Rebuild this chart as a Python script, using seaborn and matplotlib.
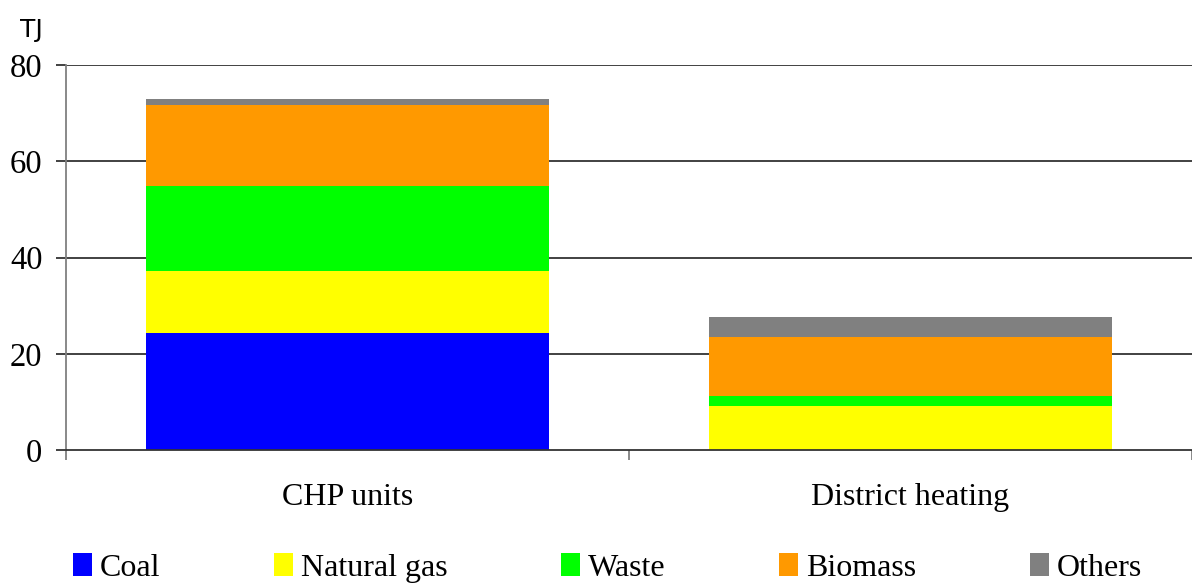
import matplotlib
matplotlib.use("Agg")
import matplotlib.pyplot as plt
import seaborn as sns
import pandas as pd
import numpy as np
from matplotlib.patches import Patch

categories = ["CHP units", "District heating"]
fuels = ["Coal", "Natural gas", "Waste", "Biomass", "Others"]
coal = [24.4, 0.0]
natural_gas = [12.8, 9.1]
waste = [17.6, 2.1]
biomass = [16.9, 12.3]
others = [1.3, 4.1]
colors = ["#0000FF", "#FFFF00", "#00FF00", "#FF9900", "#808080"]

sns.set_theme(style="white")
plt.rcParams["font.family"] = ["Liberation Serif", "DejaVu Serif"]
plt.rcParams["text.color"] = "black"
plt.rcParams["xtick.color"] = "black"
plt.rcParams["ytick.color"] = "black"

fig = plt.figure(figsize=(11.92, 5.85), dpi=100)
ax = fig.add_axes([66 / 1192, 1 - 450 / 585, 1 - 66 / 1192, (450 - 65) / 585])

series = [coal, natural_gas, waste, biomass, others]
cum = np.cumsum(np.array(series), axis=0)

for yv in [20, 40, 60, 80]:
    ax.axhline(yv, color="#333333", lw=1.3, zorder=0)

# stacked bars: draw cumulative totals from top layer down
for i in range(len(fuels) - 1, -1, -1):
    df = pd.DataFrame({"cat": categories, "val": cum[i]})
    sns.barplot(data=df, x="cat", y="val", color=colors[i], width=0.716,
                saturation=1, linewidth=0, ax=ax, zorder=2)

ax.set_xlim(-0.5, 1.5)
ax.set_ylim(0, 80)
ax.set_xlabel("")
ax.set_ylabel("")

for s in ["top", "right"]:
    ax.spines[s].set_visible(False)
ax.spines["left"].set_color("#808080")
ax.spines["left"].set_linewidth(1.3)
ax.spines["bottom"].set_color("#333333")
ax.spines["bottom"].set_linewidth(1.3)

ax.set_yticks([0, 20, 40, 60, 80])
ax.set_yticklabels(["0", "20", "40", "60", "80"], fontsize=23.5, color="black")
ax.tick_params(axis="y", direction="out", length=7, width=1.3, color="#333333",
               pad=10, left=True, labelcolor="black")

ax.set_xticks([-0.5, 0.5, 1.5])
ax.set_xticklabels(["", "", ""])
ax.tick_params(axis="x", which="major", direction="out", length=7, width=1.3,
               color="#808080", bottom=True)
ax.set_xticks([0, 1], minor=True)
ax.set_xticklabels(categories, minor=True, fontsize=23, color="black")
ax.tick_params(axis="x", which="minor", length=0, pad=24, labelcolor="black")

fig.text(20 / 1192, 1 - 30 / 585, "TJ", ha="left", va="center",
         fontsize=18, family="DejaVu Sans", color="black")

handles = [Patch(facecolor=c, edgecolor="none", label=f) for f, c in zip(fuels, colors)]
leg = fig.legend(handles=handles, loc="center", bbox_to_anchor=(607.5 / 1192, 1 - 568 / 585),
                 ncol=5, frameon=False, fontsize=23, handlelength=0.6, handleheight=0.7,
                 handletextpad=0.25, columnspacing=3.55, borderaxespad=0, borderpad=0)
for t in leg.get_texts():
    t.set_color("black")

fig.savefig("out.png", dpi=100)
